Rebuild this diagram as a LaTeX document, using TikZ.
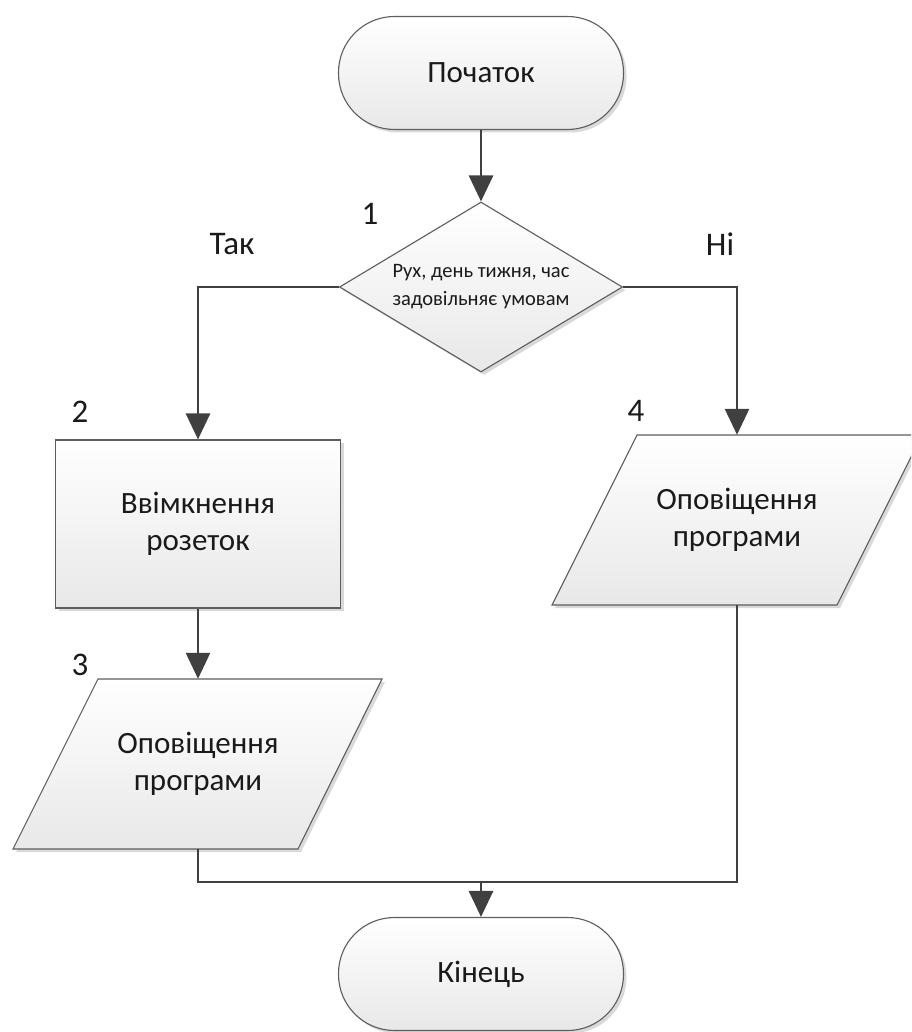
\documentclass[tikz,border=0pt]{standalone}
\usepackage{fontspec}
\setmainfont{Carlito}
\usetikzlibrary{shapes.geometric,arrows.meta,calc,shadows}

\definecolor{edge}{HTML}{404040}
\definecolor{txt}{HTML}{1A1A1A}

\tikzset{
  shapefill/.style={draw=edge!85, line width=1.1pt, top color=white, bottom color=black!9,
    drop shadow={shadow xshift=3pt, shadow yshift=-3pt, opacity=0.15, fill=black}},
  term/.style={shapefill, rectangle, rounded corners=56pt, minimum width=285pt,
    minimum height=113pt, text=txt, font=\fontsize{31}{37}\selectfont},
  proc/.style={shapefill, rectangle, minimum width=285pt, minimum height=168pt,
    text=txt, align=center, font=\fontsize{31}{37}\selectfont},
  decis/.style={shapefill, diamond, aspect=1.665, minimum width=283pt,
    minimum height=170pt, inner sep=0pt},
  iotext/.style={rectangle, minimum width=285pt, minimum height=170pt, inner sep=0pt,
    text=txt, align=center, font=\fontsize{31}{37}\selectfont},
  lbl/.style={text=txt, font=\fontsize{33}{38}\selectfont, inner sep=0pt},
  conn/.style={draw=edge, line width=2.8pt},
  arr/.style={conn, -{Triangle[length=26pt,width=24pt]}},
}

\begin{document}
\begin{tikzpicture}[x=1pt,y=-1pt]
  \useasboundingbox (0,0) rectangle (911,1032);
  \clip (0,0) rectangle (911,1032);

  % start / end
  \node[term] (s) at (481,73) {Початок};
  \node[term] (e) at (481,974) {Кінець};

  % decision
  \node[decis] (d) at (481,287) {};
  \node[text=txt, align=center, font=\fontsize{20.5}{28}\selectfont] (dt) at (481,287)
    {Рух, день тижня, час\\задовільняє умовам};

  % process
  \node[proc] (b2) at (198,524) {Ввімкнення\\розеток};

  % input/output blocks (parallelograms)
  \coordinate (c3) at (198,764);
  \coordinate (c4) at (737,520);
  \path[shapefill] ($(c3)+(-100,-85)$) -- ($(c3)+(184,-85)$) -- ($(c3)+(100,85)$)
    -- ($(c3)+(-185,85)$) -- cycle;
  \path[shapefill] ($(c4)+(-100,-85)$) -- ($(c4)+(185,-85)$) -- ($(c4)+(100,85)$)
    -- ($(c4)+(-185,85)$) -- cycle;
  \node[iotext] (p3) at (c3) {Оповіщення\\програми};
  \node[iotext] (p4) at (c4) {Оповіщення\\програми};

  % labels
  \node[lbl] (n1) at (370,214) {1};
  \node[lbl] (n2) at (80,412) {2};
  \node[lbl] (n3) at (80,665) {3};
  \node[lbl] (n4) at (636,411) {4};
  \node[lbl] (yes) at (232,244) {Так};
  \node[lbl] (no) at (720,244) {Ні};

  % connectors
  \coordinate (j) at (481,882);
  \draw[arr] (s.south) -- (d.north);
  \draw[arr] (d.west) -| (b2.north);
  \draw[arr] (d.east) -| (p4.north);
  \draw[arr] (b2.south) -- (p3.north);
  \draw[conn] (p3.south) |- (j);
  \draw[conn] (p4.south) |- (j);
  \draw[arr] (j) -- (e.north);
\end{tikzpicture}
\end{document}
